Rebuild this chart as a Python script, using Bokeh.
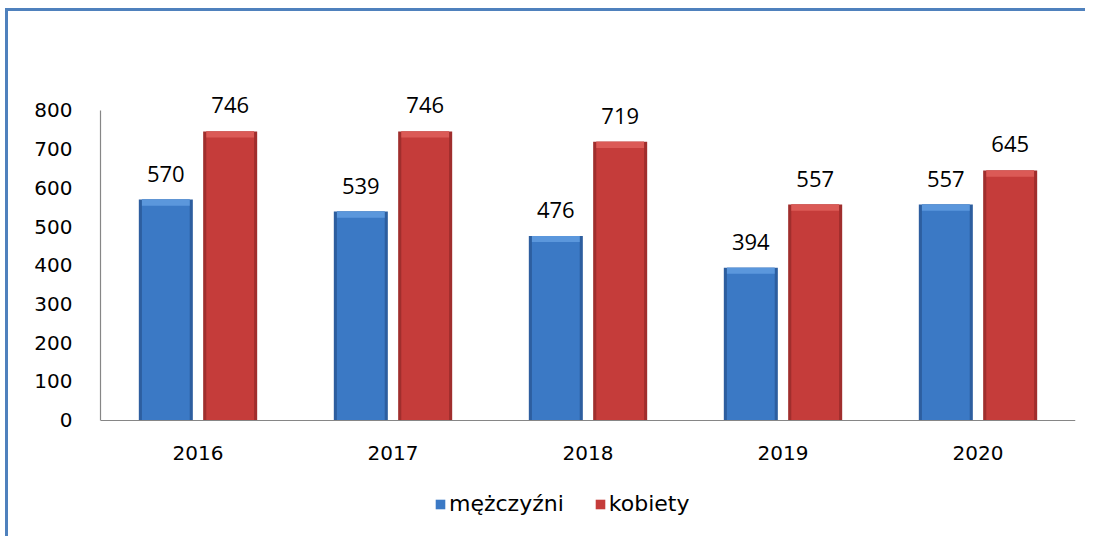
from bokeh.plotting import figure
from bokeh.models import ColumnDataSource, FactorRange, Range1d, Legend, LegendItem
from bokeh.transform import dodge
from bokeh.core.properties import value
from bokeh.embed import file_html
from bokeh.resources import INLINE

years = ["2016", "2017", "2018", "2019", "2020"]
men = [570, 539, 476, 394, 557]
women = [746, 746, 719, 557, 645]
series_names = ["mężczyźni", "kobiety"]

FONT = "DejaVu Sans"
VAL_FONT = "Open Sans"
BLUE_EDGE = "#2D5E9F"
BLUE = "#3B79C5"
BLUE_LIGHT = "#5B97DC"
RED_EDGE = "#A02E2D"
RED = "#C53C3A"
RED_LIGHT = "#DB5A56"
BEVEL = 16  # height of top bevel strip, in data units

src = ColumnDataSource(dict(
    year=years, men=men, women=women,
    men_bevel=[v - BEVEL for v in men], women_bevel=[v - BEVEL for v in women],
    men_lbl=[str(v) for v in men], women_lbl=[str(v) for v in women],
))

p = figure(
    x_range=FactorRange(*years), y_range=Range1d(-303, 880),
    frame_width=975, frame_height=458,
    min_border_left=92, min_border_top=68, min_border_right=10, min_border_bottom=0,
    output_backend="svg", toolbar_location=None,
)
p.styles = {"border-top": "3px solid #4F81BD", "border-left": "3px solid #4F81BD",
            "margin-top": "8px", "margin-left": "5px"}
p.outline_line_color = None
p.xgrid.grid_line_color = None
p.ygrid.grid_line_color = None

renderers = []
for col, bev, off, edge, body, light in (
    ("men", "men_bevel", -0.165, BLUE_EDGE, BLUE, BLUE_LIGHT),
    ("women", "women_bevel", 0.165, RED_EDGE, RED, RED_LIGHT),
):
    xx = dodge("year", off, range=p.x_range)
    p.vbar(x=xx, top=col, width=0.277, source=src, fill_color=edge, line_color=None)
    r = p.vbar(x=xx, top=col, width=0.245, source=src, fill_color=body, line_color=None)
    p.vbar(x=xx, bottom=bev, top=col, width=0.245, source=src, fill_color=light, line_color=None)
    renderers.append(r)
    p.text(x=xx, y=col, text=col + "_lbl", source=src,
           text_align="center", text_baseline="bottom", y_offset=-18,
           text_font=value(VAL_FONT), text_font_size="22px", text_color="#000000")

p.yaxis.ticker = [0, 100, 200, 300, 400, 500, 600, 700, 800]
p.yaxis.bounds = (0, 800)
p.xaxis.fixed_location = 0
for ax in (p.xaxis[0], p.yaxis[0]):
    ax.axis_line_color = "#868686"
    ax.axis_line_width = 1.2
    ax.major_tick_line_color = None
    ax.minor_tick_line_color = None
    ax.major_label_text_font = FONT
    ax.major_label_text_font_size = "20px"
    ax.major_label_text_color = "#000000"
p.yaxis.major_label_standoff = 22
p.xaxis.major_label_standoff = 20
p.x_range.range_padding = 0
p.x_range.group_padding = 0

legend = Legend(items=[LegendItem(label=series_names[0], renderers=[renderers[0]]),
                       LegendItem(label=series_names[1], renderers=[renderers[1]])],
                orientation="horizontal", location=(334, 21))
legend.border_line_color = None
legend.background_fill_alpha = 0
legend.label_text_font = FONT
legend.label_text_font_size = "22px"
legend.label_text_color = "#000000"
legend.glyph_width = 12
legend.glyph_height = 12
legend.label_standoff = 3
legend.spacing = 30
legend.padding = 2
legend.margin = 0
p.add_layout(legend, "center")

open("out.html", "w").write(file_html(p, INLINE))
